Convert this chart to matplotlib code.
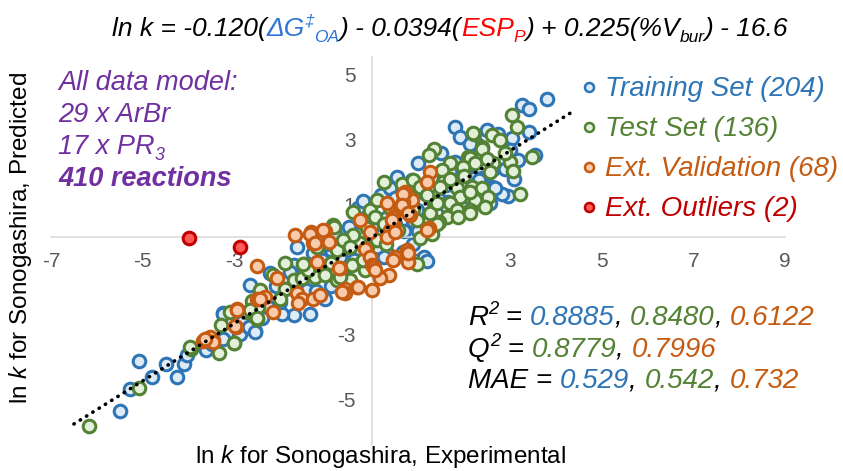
import matplotlib
matplotlib.use("Agg")
import matplotlib.pyplot as plt
from matplotlib import font_manager
from matplotlib.font_manager import FontProperties
from matplotlib.transforms import IdentityTransform
from matplotlib.lines import Line2D
import numpy as np

# ---------------- data ----------------
train_x = [-5.09, -4.80, -5.27, -5.49, -4.25, -4.11, -4.04, -3.62, -2.88, -3.17, -2.69, -2.56, -3.24, -2.66,
           -1.63, -1.71, -2.22, -1.79, -1.64, -1.42, -1.02, -1.22, -1.71, -1.35, -1.97, -2.26, -3.24, -2.84,
           -2.69, -2.55, -3.24, -0.66, 1.81, 1.92, 2.21, 1.01, 2.03, 0.54, 2.39, 2.61, 1.48, 2.57, 0.10, -0.12,
           -0.26, 0.68, 1.12, 0.32, -1.28, 3.82, 3.26, 3.41, 3.41, 3.04, 3.01, 3.55, 3.19, 2.28, 2.75, 2.14,
           0.86, 2.64, 1.81, 2.21, 2.32, 2.97, 2.83, 2.68, 2.39, 1.66, -0.12, 0.97, 1.63, 1.19, 0.25,
           -1.10, -0.90, -0.50, -0.30, 0.30, 0.50, 0.20, 0.70, -0.70, -1.90, -2.10, -1.50, 0.90, 1.30, 1.60,
           1.90, 0.40, -0.30, 1.10, 2.90, 3.10, 2.00, 0.00, -0.60, -2.40, -3.50, -4.50, 0.90, 1.50, 2.50,
           -0.80, -1.00, -0.40, 0.10, 0.60, 1.30, 1.70, 2.20, -0.20, 0.50, 1.00, -1.30, -2.00, -0.90]
train_y = [-3.82, -4.30, -4.68, -5.34, -4.32, -3.91, -3.63, -3.48, -2.98, -2.96, -2.78, -2.88, -2.33, -1.48,
           -0.30, -0.86, -1.10, -1.07, -1.58, -1.63, -1.89, -1.65, -2.40, -2.35, -2.35, -2.14, -2.35, -2.61,
           -2.76, -2.91, -3.12, -1.14, 3.39, 3.09, 2.88, 2.27, 2.16, 1.86, 1.81, 1.55, 1.14, 1.04, 1.14, 0.52,
           -0.40, -0.45, -0.61, -0.50, -0.50, 4.27, 4.06, 3.96, 3.24, 3.04, 2.68, 2.52, 2.37, 2.88, 3.19, 2.88,
           1.75, 2.11, 2.32, 1.81, 1.75, 1.26, 1.34, 1.50, 1.04, 1.09, 0.83, 0.83, 0.93, -0.73, -0.61,
           -0.70, -0.40, 0.30, 0.10, 0.60, 0.40, 1.30, 0.20, -0.60, -1.60, -1.50, -1.20, 0.50, 0.40, 1.60,
           1.90, 1.50, 0.90, 1.40, 2.10, 1.80, 0.90, 0.30, -0.10, -2.50, -3.30, -3.90, -0.20, 2.60, 3.30,
           0.10, -0.20, -0.70, -0.30, 0.90, 1.80, 2.00, 2.30, 1.10, 1.20, 0.20, -1.30, -2.00, -1.50]

test_x = [-5.09, -6.17, -3.94, -3.33, -3.02, -2.73, -2.51, -2.62, -0.86, -1.48, -1.90, -2.15, -1.71, -1.53,
          -1.24, -1.02, -1.90, -2.44, -2.48, -2.66, -2.51, -3.09, -3.02, -3.97, -0.41, -0.12, -0.55, -0.77,
          -0.26, -0.15, -0.44, -0.77, 2.21, 2.61, 2.39, 1.34, 1.23, 1.70, 2.10, 2.64, 1.52, 0.25, 0.65, 0.90,
          1.05, 1.55, 1.85, 2.17, 2.39, 1.92, 2.24, 2.53, 1.70, 1.34, 1.85, 2.14, 2.46, 1.63, 1.45, 1.30,
          1.15, 0.97, 0.90, -0.04, 0.07, 0.25, 0.57, -0.41, -0.63, -0.84, -0.48, -0.12, 0.97, -0.48, -0.70,
          -1.39, -1.50, 3.04, 3.15, 3.48, 3.01, 3.07, 2.19, 2.79, 2.39, 2.14, 2.50, 2.24, 2.57, 1.99, 3.22,
          2.14, 1.48, 2.14, 0.10, 1.26, 1.41, 1.05, 1.41, 1.88, 0.10,
          -1.20, -0.90, 0.40, 0.80, 1.20, 1.70, 2.00, 2.90, -2.00, -3.30, 0.30, -0.20]
test_y = [-4.63, -5.81, -3.43, -3.58, -3.25, -2.30, -2.53, -1.96, 0.37, -0.81, -0.79, -1.17, -1.32, -1.27,
          -1.22, -1.17, -1.58, -1.63, -2.14, -2.25, -2.50, -2.30, -3.27, -3.38, 0.78, 0.27, -0.30, -0.40,
          -0.19, -1.02, -0.86, -1.32, 3.19, 3.14, 2.78, 2.73, 2.52, 2.27, 2.47, 2.27, 2.06, 1.70, 1.65, 1.75,
          1.55, 1.70, 1.50, 1.55, 1.50, 1.24, 1.14, 1.24, 1.04, 1.04, 0.83, 0.83, 0.93, 0.63, 0.47, 0.11,
          0.47, 0.52, 0.88, 0.83, 0.63, 0.42, 0.22, 0.06, -0.09, 0.32, -0.30, -0.30, -0.81, -1.32, -1.22,
          -1.02, -0.81, 3.75, 3.39, 2.47, 2.32, 2.04, 3.22, 2.98, 2.73, 2.45, 2.42, 2.27, 2.01, 2.16, 1.34,
          0.73, 1.55, 1.39, 1.14, 0.73, 1.04, -0.04, 0.42, 0.63, -0.09,
          -0.30, -0.80, 0.90, 1.30, 1.30, 1.80, 1.90, 2.60, -1.90, -2.70, -0.20, -0.70]

ext_x = [-3.68, -3.46, -3.53, -2.96, -2.95, -2.51, -2.51, -1.69, -1.33, -1.02, -1.28, -0.95, -1.20, -0.70,
         -2.08, -1.64, -1.53, -1.28, -1.13, -1.61, -2.15, -2.33, -2.44, -2.95, -2.98, -3.46, -3.64, -0.26,
         -0.04, -0.15, -0.04, -0.01, -0.59, -0.59, -0.33, -0.01, 1.26, 1.19, 1.23, 0.83, 0.86, 0.72, 0.68,
         0.61, 0.46, 0.46, 0.32, 0.39, 0.32, -1.06, -1.35, -1.24, 0.03, 0.17, 0.36, 0.50, 0.76, 0.79, -0.66,
         -0.30, -0.73, 0.68, 0.65, 0.79, 0.43, 0.50, 1.19, 0.79, 0.46, 0.17, 0.07]
ext_y = [-3.19, -3.17, -3.07, -2.78, -2.22, -1.89, -0.89, 0.08, 0.16, 0.19, -0.17, -0.14, -0.76, -0.96,
         -1.27, -1.73, -1.89, -1.89, -1.78, -2.04, -2.30, -1.84, -1.89, -2.25, -2.74, -3.22, -3.15, 0.52,
         0.16, -0.35, -0.61, -0.86, -1.58, -1.73, -1.53, -1.63, 2.01, 1.70, 0.27, 0.68, 1.14, 1.39, 1.09,
         0.93, 0.63, 0.42, 1.04, 0.22, 0.01, 0.22, 0.11, -0.19, -0.91, -1.22, -1.17, -0.61, -0.40, -0.76, -1.68,
         -1.53, -0.96, 1.34, 0.98, 0.73, 0.52, 0.16, 0.22, -0.50, -0.71, -1.27, -1.02]

out_x = [-3.99, -2.88]
out_y = [-0.01, -0.30]

trend_slope = 0.885
trend_intercept = 0.0
trend_range = [-6.5, 4.4]

x_ticks = [-7, -5, -3, -1, 1, 3, 5, 7, 9]
y_ticks = [-5, -3, -1, 1, 3, 5]

series_labels = ["Training Set (204)", "Test Set (136)", "Ext. Validation (68)", "Ext. Outliers (2)"]

# ---------------- styles ----------------
BLUE = "#2E75B6"; BLUE_F = "#DDEBF7"
GREEN = "#548235"; GREEN_F = "#E2F0D9"
ORANGE = "#C55A11"; ORANGE_F = "#F8CBAD"
RED = "#C00000"; RED_F = "#FF5B5B"
PURPLE = "#7030A0"
TITLE_BLUE = "#2E75D6"
TITLE_RED = "#FF0000"


def has_font(name):
    try:
        font_manager.findfont(FontProperties(family=name), fallback_to_default=False)
        return True
    except Exception:
        return False

SANS = "Liberation Sans" if has_font("Liberation Sans") else "DejaVu Sans"
NARROW = "Liberation Sans Narrow" if has_font("Liberation Sans Narrow") else SANS

plt.rcParams['font.family'] = [SANS, 'DejaVu Sans']
plt.rcParams['mathtext.fontset'] = 'custom'
plt.rcParams['mathtext.rm'] = SANS
plt.rcParams['mathtext.it'] = SANS + ':italic'
plt.rcParams['mathtext.bf'] = SANS + ':bold'

W, H = 843, 471
fig = plt.figure(figsize=(W / 100, H / 100), dpi=100)

# axes area: x -7..9 -> px 51..785 ; y -6.4..5.55 -> px 445..57
ax = fig.add_axes([51 / W, (H - 445) / H, (785 - 51) / W, (445 - 57) / H])
ax.set_xlim(-7, 9)
ax.set_ylim(-6.4, 5.55)
for s in ['top', 'right']:
    ax.spines[s].set_visible(False)
ax.spines['left'].set_position(('data', 0))
ax.spines['bottom'].set_position(('data', 0))
for s in ['left', 'bottom']:
    ax.spines[s].set_color('#D9D9D9')
    ax.spines[s].set_linewidth(1.1)
ax.set_xticks(x_ticks)
ax.set_yticks(y_ticks)
ax.set_xticklabels([str(v) for v in x_ticks])
ax.set_yticklabels([str(v) for v in y_ticks])
ax.tick_params(axis='both', length=0, labelcolor='#595959', labelsize=15)
ax.tick_params(axis='x', pad=11)
ax.tick_params(axis='y', pad=12)
for lab in ax.get_xticklabels() + ax.get_yticklabels():
    lab.set_family([NARROW, SANS])
ax.set_axisbelow(True)
ax.patch.set_visible(False)

ms = 82
lw = 2.2
ax.scatter(train_x, train_y, s=ms, facecolor=BLUE_F, edgecolor=BLUE, linewidth=lw, zorder=2)
ax.scatter(test_x, test_y, s=ms, facecolor=GREEN_F, edgecolor=GREEN, linewidth=lw, zorder=3)
ax.scatter(ext_x, ext_y, s=ms, facecolor=ORANGE_F, edgecolor=ORANGE, linewidth=lw, zorder=4)
ax.scatter(out_x, out_y, s=ms, facecolor=RED_F, edgecolor=RED, linewidth=lw, zorder=5)

tx = np.array(trend_range)
ax.plot(tx, trend_slope * tx + trend_intercept, color='black', linewidth=2.6,
        linestyle=(0, (0.1, 1.95)), dash_capstyle='round', zorder=6)

# ---------------- rich text helper (pixel coords, y from top) ----------------
renderer = fig.canvas.get_renderer()
ID = IdentityTransform()


def rich(x, y_img, parts, size, ha='left', family=None, italic=True):
    fam = family or [SANS, 'DejaVu Sans']
    arts = []
    cur = 0.0
    for p in parts:
        s, color = p[0], p[1]
        kind = p[2] if len(p) > 2 else 'n'
        weight = p[3] if len(p) > 3 else 'normal'
        fs = size * 0.66 if kind in ('sub', 'sup') else size
        px = size * 100 / 72
        dy = -0.22 * px if kind == 'sub' else (0.40 * px if kind == 'sup' else 0.0)
        t = fig.text(0, 0, s, fontsize=fs, color=color, style='italic' if italic else 'normal',
                     weight=weight, family=fam, transform=ID, ha='left', va='baseline')
        w = t.get_window_extent(renderer).width
        arts.append((t, cur, dy))
        cur += w
    x0 = x - cur / 2 if ha == 'center' else (x - cur if ha == 'right' else x)
    for t, off, dy in arts:
        t.set_position((x0 + off, H - y_img + dy))
    return cur

K = 'black'
# title
rich(450, 36, [("ln k = -0.120(", K), ("ΔG", TITLE_BLUE), ("‡", TITLE_BLUE, 'sup'), ("OA", TITLE_BLUE, 'sub'),
               (") - 0.0394(", K), ("ESP", TITLE_RED), ("P", TITLE_RED, 'sub'),
               (") + 0.225(%V", K), ("bur", K, 'sub'), (") - 16.6", K)], 19, ha='center',
     family=[NARROW, SANS, 'DejaVu Sans'])

# left purple block
LS = 19.5
rich(58, 90, [("All data model:", PURPLE)], LS)
rich(58, 122, [("29 x ArBr", PURPLE)], LS)
rich(58, 154, [("17 x PR", PURPLE), ("3", PURPLE, 'sub')], LS)
rich(58, 186, [("410 reactions", PURPLE, 'n', 'bold')], LS)

# legend
leg_items = [(BLUE, BLUE_F), (GREEN, GREEN_F), (ORANGE, ORANGE_F), (RED, RED_F)]
leg_text_colors = [BLUE, GREEN, ORANGE, RED]
GS = 20
for i, (lab, (ec, fc), tc) in enumerate(zip(series_labels, leg_items, leg_text_colors)):
    yc = 87 + 40 * i
    fig.add_artist(Line2D([589], [H - yc], marker='o', markersize=6.5, markerfacecolor=fc,
                          markeredgecolor=ec, markeredgewidth=1.8, linestyle='none', transform=ID))
    rich(605, yc + 9, [(lab, tc)], GS)

# stats block
SS = 20
rich(468, 325, [("R", K), ("2", K, 'sup'), (" = ", K), ("0.8885", BLUE), (", ", K), ("0.8480", GREEN),
                (", ", K), ("0.6122", ORANGE)], SS)
rich(468, 357, [("Q", K), ("2", K, 'sup'), (" = ", K), ("0.8779", GREEN), (", ", K), ("0.7996", ORANGE)], SS)
rich(468, 388, [("MAE = ", K), ("0.529", BLUE), (", ", K), ("0.542", GREEN), (", ", K), ("0.732", ORANGE)], SS)

# axis labels
fig.text(381 / W, (H - 457) / H, r"ln $\mathit{k}$ for Sonogashira, Experimental", fontsize=17.5,
         ha='center', va='center', color='black')
fig.text(21 / W, (H - 238) / H, r"ln $\mathit{k}$ for Sonogashira, Predicted", fontsize=17.5,
         ha='center', va='center', rotation=90, color='black')

fig.savefig("out.png", dpi=100)
